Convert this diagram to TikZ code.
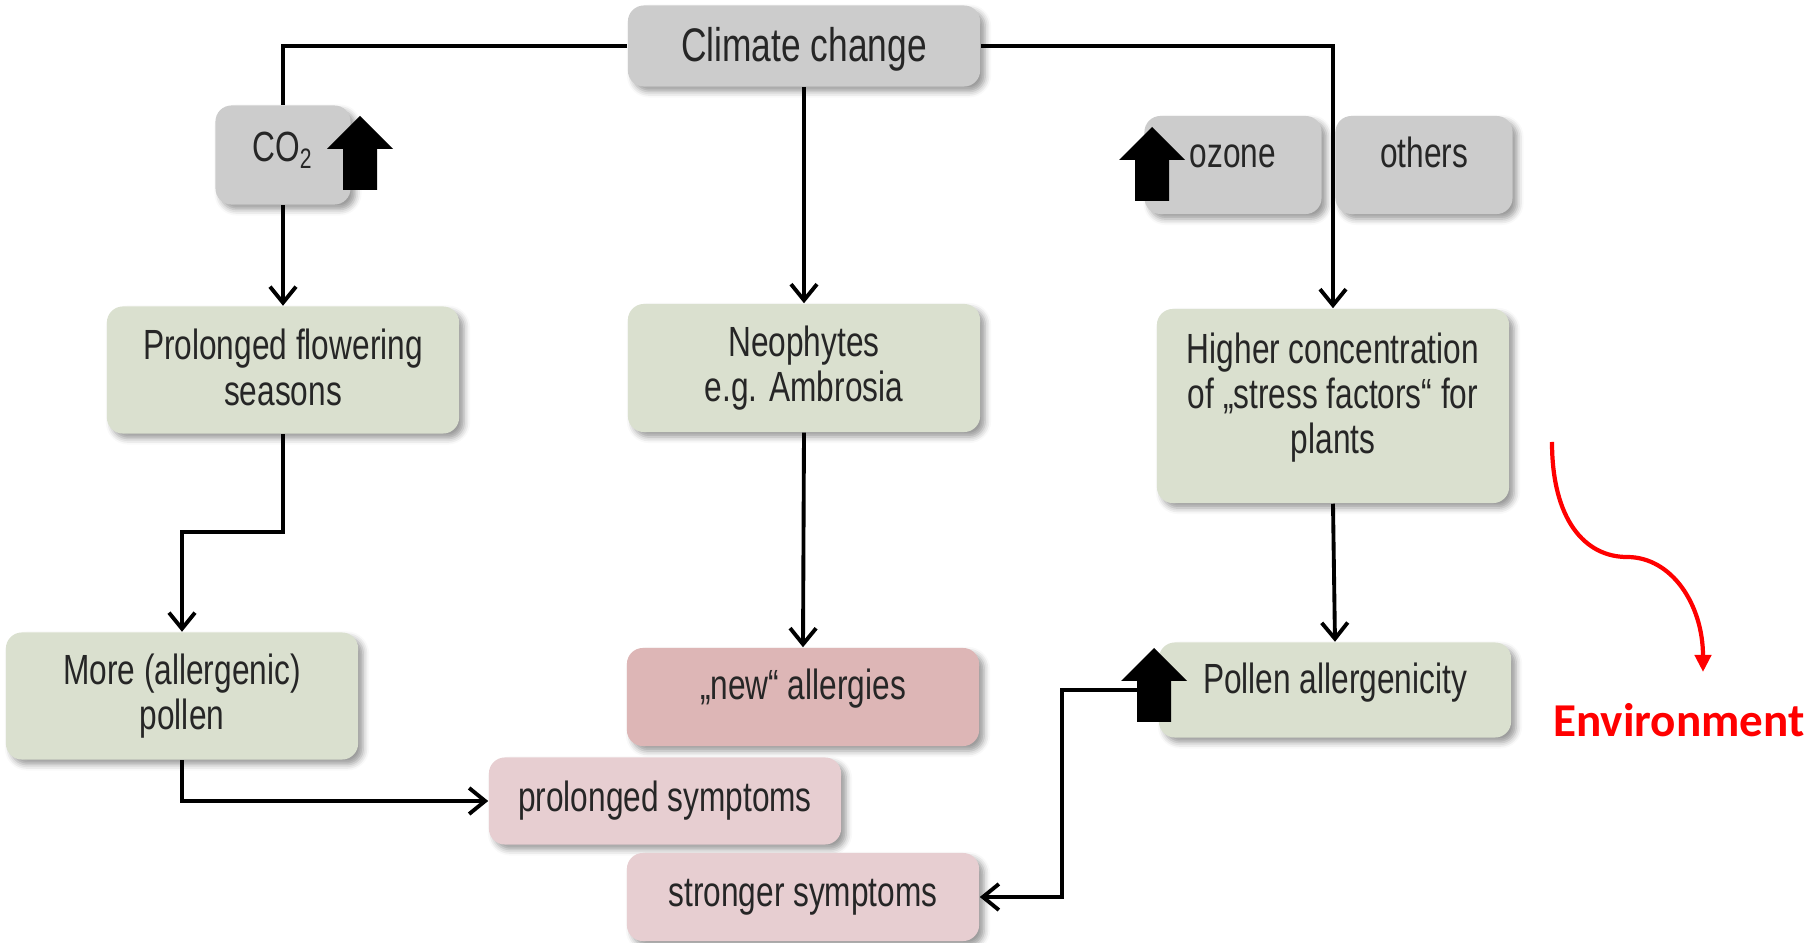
\documentclass[tikz,border=0pt]{standalone}
\usepackage{fontspec}
\setmainfont{Liberation Sans}[FakeStretch=0.75]
\newfontfamily\envfont{Carlito}
\usetikzlibrary{shapes, arrows.meta, shadows.blur}
\definecolor{boxgray}{RGB}{204,204,204}
\definecolor{boxgreen}{RGB}{218,224,207}
\definecolor{boxrose}{RGB}{221,182,182}
\definecolor{boxpink}{RGB}{231,206,209}
\tikzstyle{box} = [rectangle, rounded corners=0.16cm, minimum width=3.52cm, minimum height=0.98cm, inner sep=0pt, align=center, text=black!85, font=\fontsize{12}{13}\selectfont, blur shadow={shadow xshift=0.05cm, shadow yshift=-0.05cm, shadow blur radius=0.06cm}]
\tikzstyle{graybox} = [box, fill=boxgray]
\tikzstyle{greenbox} = [box, fill=boxgreen]
\tikzstyle{rosebox} = [box, fill=boxrose]
\tikzstyle{pinkbox} = [box, fill=boxpink]
\tikzstyle{line} = [line width=1.1pt]
\tikzstyle{arrow} = [line width=1.1pt, ->, >={Straight Barb[length=0.16cm, width=0.26cm]}]
\tikzstyle{envarrow} = [red, line width=1.2pt, -{Triangle[length=0.17cm, width=0.16cm]}]
\tikzstyle{envlabel} = [text=red, font={\envfont\bfseries\fontsize{13.4}{16}\selectfont}]
\tikzset{lift/.style={execute at end node={\rule[-#1]{0pt}{0pt}}}}
\tikzset{bigup/.pic={\fill[black] (-17,37) -- (-17,-4) -- (-33,-4) -- (0,-37) -- (33,-4) -- (17,-4) -- (17,37) -- cycle;}}

\begin{document}
\begin{tikzpicture}[x=0.01cm, y=-0.01cm]
    \useasboundingbox (0,0) rectangle (1814,943);
    % top row
    \node (climate) [graybox, minimum height=0.81cm, font=\fontsize{13.4}{15}\selectfont, text height=10pt, text depth=1.2pt] at (804,46) {Climate change};
    \node (co2) [graybox, minimum width=1.35cm, minimum height=0.99cm, text height=5pt, text depth=1.2pt] at (283,155) {CO\textsubscript{2}};
    \node (ozone) [graybox, minimum width=1.77cm, text height=3pt, text depth=1.4pt] at (1233,165) {ozone};
    \node (others) [graybox, minimum width=1.77cm, text height=3pt, text depth=1.4pt] at (1424,165) {others};
    % middle row
    \node (prolonged) [greenbox, minimum height=1.27cm, lift=1.6pt] at (283,370) {Prolonged flowering\\seasons};
    \node (neo) [greenbox, minimum height=1.28cm] at (804,368) {Neophytes\\e.g. Ambrosia};
    \node (higher) [greenbox, minimum height=1.94cm, font=\fontsize{12}{12.8}\selectfont, lift=7pt] at (1333,406) {Higher concentration\\of „stress factors“ for\\plants};
    % lower rows
    \node (more) [greenbox, minimum height=1.27cm] at (182,696) {More (allergenic)\\pollen};
    \node (new) [rosebox, text height=3pt, text depth=1.5pt] at (803,697) {„new“ allergies};
    \node (pollen) [greenbox, minimum height=0.95cm, text height=3pt, text depth=0.9pt] at (1335,690) {Pollen allergenicity};
    \node (prolsym) [pinkbox, minimum height=0.87cm] at (665,801) {prolonged symptoms};
    \node (stronger) [pinkbox, minimum height=0.88cm] at (803,897) {stronger symptoms};
    \node (env) [envlabel] at (1679,720) {Environment};
    \coordinate (envstart) at (1552,442);
    \coordinate (envend) at (1703,672);

    \draw [line] (climate.west) -| (co2.north);
    \draw [arrow] (co2.south) -- (prolonged.north);
    \draw [arrow] (climate.south) -- (neo.north);
    \draw [arrow] (climate.east) -| (higher.north);
    \draw [arrow] (prolonged.south) -- ++(0,98) -| (more.north);
    \draw [arrow] (neo.south) -- (new.north);
    \draw [arrow] (higher.south) -- (pollen.north);
    \draw [arrow] (more.south) |- (prolsym.west);
    \draw [arrow] (pollen.west) -- ++(-96,0) |- (stronger.east);
    \draw [envarrow] (envstart) .. controls (1552,520) and (1585,557) .. (1627,557) .. controls (1672,557) and (1703,605) .. (envend);

    % up arrows
    \pic at (360,153) {bigup};
    \pic at (1152,164) {bigup};
    \pic at (1154,685) {bigup};
\end{tikzpicture}
\end{document}
